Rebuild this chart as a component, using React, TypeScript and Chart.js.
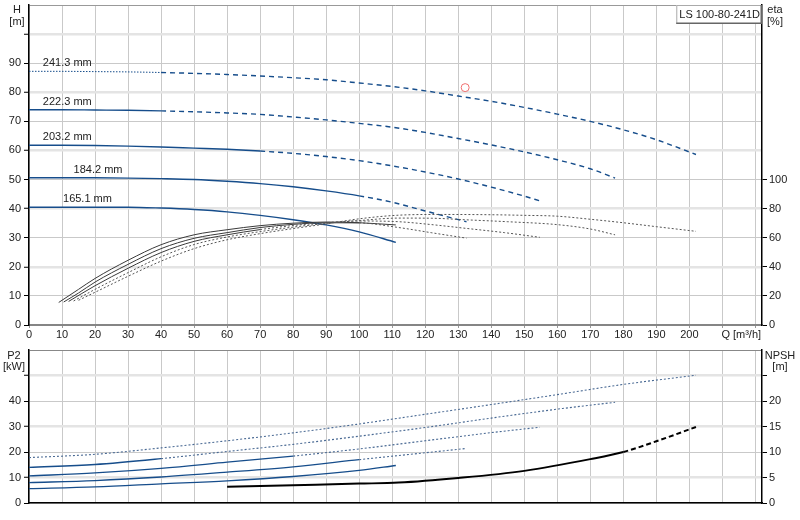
import { useEffect, useRef } from "react";
import { Chart, registerables } from "chart.js";

Chart.register(...registerables);

const FONT_FAMILY = "'Liberation Sans', Arial, sans-serif";
Chart.defaults.font.family = FONT_FAMILY;
Chart.defaults.font.size = 11;
Chart.defaults.color = "#222";

// ---------- data ----------
const modelName = "LS 100-80-241D";
const diameterLabels = ["241.3 mm", "222.3 mm", "203.2 mm", "184.2 mm", "165.1 mm"];
const labelQ = [4.2, 4.2, 4.2, 13.5, 10.3];

const qTicks = [0, 10, 20, 30, 40, 50, 60, 70, 80, 90, 100, 110, 120, 130, 140, 150, 160, 170, 180, 190, 200, 210, 220];
const hTicks = [0, 10, 20, 30, 40, 50, 60, 70, 80, 90, 100, 110];
const etaTicks = [0, 20, 40, 60, 80, 100];
const p2Ticks = [0, 10, 20, 30, 40, 50, 60];
const npshTicks = [0, 5, 10, 15, 20, 25];

// head curves H [m]
const headQ241 = [0, 10, 20, 30, 40, 50, 60, 70, 80, 90, 100, 110, 120, 130, 140, 150, 160, 170, 180, 190, 202];
const head241 = [87.2, 87.2, 87.1, 87.0, 86.8, 86.5, 86.1, 85.6, 85.0, 84.3, 83.2, 82.0, 80.5, 78.7, 76.9, 74.8, 72.5, 70.0, 67.1, 63.7, 58.6];
const headQ222 = [0, 10, 20, 30, 40, 50, 60, 70, 80, 90, 100, 110, 120, 130, 140, 150, 160, 170, 177.5];
const head222 = [74.0, 74.0, 73.9, 73.8, 73.6, 73.3, 72.9, 72.4, 71.5, 70.5, 69.3, 68.0, 66.2, 64.1, 61.9, 59.5, 56.8, 53.7, 50.5];
const headQ203 = [0, 10, 20, 30, 40, 50, 60, 70, 80, 90, 100, 110, 120, 130, 140, 150, 154.7];
const head203 = [61.8, 61.8, 61.7, 61.5, 61.2, 60.8, 60.4, 59.8, 59.0, 57.9, 56.5, 54.7, 52.6, 50.2, 47.4, 44.3, 42.7];
const headQ184 = [0, 10, 20, 30, 40, 50, 60, 70, 80, 90, 100, 110, 120, 132.5];
const head184 = [50.6, 50.6, 50.6, 50.5, 50.3, 50.0, 49.4, 48.6, 47.5, 46.1, 44.4, 42.2, 39.2, 35.5];
const headQ165 = [0, 10, 20, 30, 40, 50, 60, 70, 80, 90, 100, 111.1];
const head165 = [40.5, 40.5, 40.5, 40.5, 40.2, 39.7, 38.9, 37.7, 36.2, 34.4, 32.0, 28.4];

// efficiency curves eta [%]
const etaQ241 = [15, 20, 30, 40, 50, 60, 70, 80, 90, 100, 112, 125, 140, 150, 160, 170, 180, 190, 202];
const eta241 = [17, 22.5, 33.5, 43.9, 52.5, 58.6, 62.8, 66.3, 69.5, 73.0, 75.5, 76.0, 75.8, 75.4, 74.8, 72.7, 70.3, 67.6, 64.4];
const etaQ222 = [13.5, 20, 30, 40, 50, 60, 70, 80, 90, 100, 112, 122, 132.5, 145, 160, 170, 177.5];
const eta222 = [16.5, 24.5, 36, 46.9, 55.3, 60.5, 64.2, 67.3, 69.8, 71.8, 73.5, 73.4, 72.3, 71.0, 69.0, 66.0, 62.0];
const etaQ203 = [12, 20, 30, 40, 50, 60, 70, 80, 90, 100, 112, 122, 132.5, 144, 154.7];
const eta203 = [16.2, 27, 39, 49.8, 57.5, 62.0, 65.6, 68.4, 70.4, 71.5, 71.0, 69.0, 66.4, 63.5, 60.3];
const etaQ184 = [10.5, 15, 20, 30, 40, 50, 60, 70, 80, 90, 100, 112, 122, 132.5];
const eta184 = [15.8, 22, 29.5, 41.7, 52.5, 59.6, 63.5, 67.0, 69.2, 70.3, 70.2, 67.0, 63.4, 59.7];
const etaQ165 = [9, 15, 20, 30, 40, 50, 60, 70, 80, 90, 100, 111.1];
const eta165 = [15.5, 24.5, 32, 44.5, 55.2, 62.0, 65.5, 68.3, 70.0, 70.8, 70.3, 68.8];

// shaft power P2 [kW]
const p2Q241 = [0, 20, 40, 60, 80, 100, 120, 140, 160, 180, 202];
const p2_241 = [17.8, 19.1, 21.6, 24.4, 27.5, 31.0, 34.8, 38.6, 42.5, 46.5, 50.1];
const p2Q222 = [0, 20, 40, 60, 80, 100, 120, 140, 160, 177.5];
const p2_222 = [14.0, 15.1, 17.4, 20.2, 23.0, 26.2, 29.6, 33.3, 36.8, 39.5];
const p2Q203 = [0, 20, 40, 60, 80, 100, 120, 140, 154.7];
const p2_203 = [10.6, 11.8, 13.6, 16.0, 18.4, 21.2, 24.4, 27.6, 29.7];
const p2Q184 = [0, 20, 40, 60, 80, 100, 120, 132.5];
const p2_184 = [8.0, 8.8, 10.2, 12.1, 14.2, 17.0, 19.7, 21.4];
const p2Q165 = [0, 20, 40, 60, 80, 100, 111.1];
const p2_165 = [5.6, 6.3, 7.5, 8.7, 10.4, 12.8, 14.7];

// NPSH [m]
const npshQ = [60, 80, 100, 112, 130, 150, 170, 180, 190, 202];
const npsh = [3.2, 3.5, 3.8, 4.0, 4.9, 6.3, 8.6, 10.0, 12.1, 14.9];

// duty point
const dutyQ = [132.1];
const dutyH = [81.6];

// where each curve stops being drawn solid (index follows diameterLabels)
const headDottedUntil = [40, 0, 0, 0, 0];
const headSolidUntil = [0, 40, 70, 100, 999];
const p2SolidUntil = [0, 40, 70, 100, 999];
const etaSolidUntil = [0, 0, 70, 100, 999];
const npshSolidUntil = 180;

const curves = [
  { headQ: headQ241, head: head241, etaQ: etaQ241, eta: eta241, p2Q: p2Q241, p2: p2_241 },
  { headQ: headQ222, head: head222, etaQ: etaQ222, eta: eta222, p2Q: p2Q222, p2: p2_222 },
  { headQ: headQ203, head: head203, etaQ: etaQ203, eta: eta203, p2Q: p2Q203, p2: p2_203 },
  { headQ: headQ184, head: head184, etaQ: etaQ184, eta: eta184, p2Q: p2Q184, p2: p2_184 },
  { headQ: headQ165, head: head165, etaQ: etaQ165, eta: eta165, p2Q: p2Q165, p2: p2_165 },
];

// ---------- styling helpers ----------
const BLUE = "#164d8b";
const FONT = `11px ${FONT_FAMILY}`;
const GRID = "#c9c9c9";
const GRID_LIGHT = "#e4e4e4";

const xy = (qs: number[], vs: number[]) => qs.map((q, i) => ({ x: q, y: vs[i] }));
const setTicks = (values: number[]) => (s: any) => {
  s.ticks = values.map((v) => ({ value: v }));
};
const fixWidth = (w: number) => (s: any) => {
  s.width = w;
  s.paddingTop = 0;
  s.paddingBottom = 0;
};
const fixHeight = (h: number) => (s: any) => {
  s.height = h;
  s.paddingLeft = 0;
  s.paddingRight = 0;
};

const qAxis = (showLabels: boolean, height: number, borderColor: string, borderWidth: number) => ({
  type: "linear" as const,
  min: 0,
  max: 222,
  afterBuildTicks: setTicks(qTicks),
  afterFit: fixHeight(height),
  ticks: {
    display: showLabels,
    autoSkip: false,
    maxRotation: 0,
    padding: 0,
    callback: (v: any) => (v >= 210 ? "" : String(v)),
  },
  grid: { color: GRID, lineWidth: 1, drawTicks: showLabels, tickLength: 3, tickColor: "#999" },
  border: { color: borderColor, width: borderWidth },
});

function topOverlay(chart: any) {
  const { ctx, chartArea: a, scales } = chart;
  ctx.save();
  ctx.font = FONT;
  ctx.fillStyle = "#222";
  ctx.textBaseline = "middle";
  ctx.textAlign = "center";
  ctx.fillText("H", a.left - 12, a.top + 5);
  ctx.fillText("[m]", a.left - 12, a.top + 17);
  ctx.fillText("eta", a.right + 13, a.top + 5);
  ctx.fillText("[%]", a.right + 13, a.top + 17);
  ctx.textAlign = "left";
  ctx.fillText("Q [m³/h]", scales.x.getPixelForValue(210) - 1, a.bottom + 10);
  curves.forEach((c, i) => {
    ctx.fillText(diameterLabels[i], scales.x.getPixelForValue(labelQ[i]), scales.y.getPixelForValue(c.head[0]) - 8);
  });
  // model name box
  const w = ctx.measureText(modelName).width + 5;
  const bh = 19;
  const bx = a.right - w;
  const by = a.top;
  ctx.fillStyle = "#fff";
  ctx.fillRect(bx, by, w, bh);
  ctx.strokeStyle = "#aaa";
  ctx.lineWidth = 1;
  ctx.strokeRect(bx + 0.5, by + 0.5, w - 1, bh - 1);
  ctx.strokeStyle = "#666";
  ctx.lineWidth = 1.5;
  ctx.beginPath();
  ctx.moveTo(bx, by + bh - 0.75);
  ctx.lineTo(bx + w - 0.75, by + bh - 0.75);
  ctx.lineTo(bx + w - 0.75, by);
  ctx.stroke();
  ctx.fillStyle = "#222";
  ctx.fillText(modelName, bx + 3, by + 10);
  ctx.restore();
}

function bottomOverlay(chart: any) {
  const { ctx, chartArea: a } = chart;
  ctx.save();
  ctx.font = FONT;
  ctx.fillStyle = "#222";
  ctx.textBaseline = "middle";
  ctx.textAlign = "center";
  ctx.fillText("P2", a.left - 15, a.top + 6);
  ctx.fillText("[kW]", a.left - 15, a.top + 17);
  ctx.fillText("NPSH", a.right + 18, a.top + 6);
  ctx.fillText("[m]", a.right + 18, a.top + 17);
  ctx.restore();
}

function topConfig(): any {
  const headSets = curves.map((c, i) => ({
    data: xy(c.headQ, c.head),
    yAxisID: "y",
    borderColor: BLUE,
    borderWidth: 1.4,
    pointRadius: 0,
    cubicInterpolationMode: "monotone",
    segment: {
      borderDash: (ctx: any) => {
        const q = ctx.p0.parsed.x;
        if (q < headDottedUntil[i]) return [1.5, 1.5];
        return q < headSolidUntil[i] ? [] : [5, 4];
      },
      borderWidth: (ctx: any) => (ctx.p0.parsed.x < headDottedUntil[i] ? 1 : 1.4),
    },
  }));
  const etaSets = curves.map((c, i) => ({
    data: xy(c.etaQ, c.eta),
    yAxisID: "y1",
    borderColor: "#3a3a3a",
    borderWidth: 1,
    pointRadius: 0,
    cubicInterpolationMode: "monotone",
    segment: {
      borderDash: (ctx: any) => (ctx.p0.parsed.x < etaSolidUntil[i] ? [] : [2, 2]),
      borderColor: (ctx: any) => (ctx.p0.parsed.x < etaSolidUntil[i] ? "#3a3a3a" : "#555"),
    },
  }));
  const duty = {
    data: xy(dutyQ, dutyH),
    yAxisID: "y",
    showLine: false,
    pointRadius: 4,
    pointStyle: "circle",
    pointBorderColor: "#f07070",
    pointBackgroundColor: "rgba(0,0,0,0)",
    pointBorderWidth: 1,
  };
  return {
    type: "line",
    data: { datasets: [...etaSets, ...headSets, duty] },
    options: {
      responsive: false,
      animation: false,
      layout: { padding: 0 },
      plugins: { legend: { display: false }, tooltip: { enabled: false } },
      scales: {
        x: qAxis(true, 20, "#858585", 2),
        y: {
          type: "linear",
          position: "left",
          min: 0,
          max: 110,
          afterBuildTicks: setTicks(hTicks),
          afterFit: fixWidth(29),
          ticks: { autoSkip: false, padding: 3, callback: (v: any) => (v <= 90 ? String(v) : "") },
          grid: {
            color: (c: any) => (c.tick.value === 110 ? "#999" : c.tick.value % 20 === 0 ? GRID_LIGHT : GRID),
            lineWidth: (c: any) => (c.tick.value % 20 === 0 && c.tick.value !== 0 ? 2.5 : 1),
            tickLength: 5,
            tickWidth: 1,
            tickColor: (c: any) => (c.tick.value === 110 ? "rgba(0,0,0,0)" : "#000"),
          },
          border: { color: "#000", width: 1.5 },
        },
        y1: {
          type: "linear",
          position: "right",
          min: 0,
          max: 220,
          afterBuildTicks: setTicks(etaTicks),
          afterFit: fixWidth(38),
          ticks: { autoSkip: false, padding: 2 },
          grid: { drawOnChartArea: false, tickLength: 5, tickColor: "#000" },
          border: { color: "#000", width: 1.5 },
        },
      },
    },
    plugins: [{ id: "topOverlay", afterDraw: topOverlay }],
  };
}

function bottomConfig(): any {
  const p2Sets = curves.map((c, i) => ({
    data: xy(c.p2Q, c.p2),
    yAxisID: "y",
    borderColor: BLUE,
    borderWidth: 1.3,
    pointRadius: 0,
    cubicInterpolationMode: "monotone",
    segment: {
      borderDash: (ctx: any) => (ctx.p0.parsed.x < p2SolidUntil[i] ? [] : [2, 2]),
      borderColor: (ctx: any) => (ctx.p0.parsed.x < p2SolidUntil[i] ? BLUE : "#4a6a94"),
      borderWidth: (ctx: any) => (ctx.p0.parsed.x < p2SolidUntil[i] ? 1.3 : 1.1),
    },
  }));
  const npshSet = {
    data: xy(npshQ, npsh),
    yAxisID: "y1",
    borderColor: "#000",
    borderWidth: 2,
    pointRadius: 0,
    cubicInterpolationMode: "monotone",
    segment: {
      borderDash: (ctx: any) => (ctx.p0.parsed.x < npshSolidUntil ? [] : [5, 3]),
    },
  };
  return {
    type: "line",
    data: { datasets: [...p2Sets, npshSet] },
    options: {
      responsive: false,
      animation: false,
      layout: { padding: { top: 5 } },
      plugins: { legend: { display: false }, tooltip: { enabled: false } },
      scales: {
        x: qAxis(false, 17, "#000", 1.5),
        y: {
          type: "linear",
          position: "left",
          min: 0,
          max: 60,
          afterBuildTicks: setTicks(p2Ticks),
          afterFit: fixWidth(29),
          ticks: { autoSkip: false, padding: 3, callback: (v: any) => (v <= 40 ? String(v) : "") },
          grid: {
            color: (c: any) => (c.tick.value === 60 ? "#888" : c.tick.value % 20 === 10 ? GRID_LIGHT : GRID),
            lineWidth: (c: any) => (c.tick.value % 20 === 10 ? 2.5 : 1),
            tickLength: 5,
            tickWidth: 1,
            tickColor: (c: any) => (c.tick.value === 60 ? "rgba(0,0,0,0)" : "#000"),
          },
          border: { color: "#000", width: 1.5 },
        },
        y1: {
          type: "linear",
          position: "right",
          min: 0,
          max: 30,
          afterBuildTicks: setTicks(npshTicks),
          afterFit: fixWidth(38),
          ticks: { autoSkip: false, padding: 2, callback: (v: any) => (v <= 20 ? String(v) : "") },
          grid: { drawOnChartArea: false, tickLength: 5, tickColor: "#000" },
          border: { color: "#000", width: 1.5 },
        },
      },
    },
    plugins: [{ id: "bottomOverlay", afterDraw: bottomOverlay }],
  };
}

export default function App() {
  const topRef = useRef<HTMLCanvasElement>(null);
  const bottomRef = useRef<HTMLCanvasElement>(null);

  useEffect(() => {
    if (!topRef.current || !bottomRef.current) return;
    const top = new Chart(topRef.current, topConfig());
    const bottom = new Chart(bottomRef.current, bottomConfig());
    return () => {
      top.destroy();
      bottom.destroy();
    };
  }, []);

  return (
    <div style={{ position: "absolute", left: 0, top: 0, width: 800, height: 520, background: "#fff", overflow: "hidden" }}>
      <canvas ref={topRef} width={800} height={345} style={{ position: "absolute", left: 0, top: 0 }} />
      <canvas ref={bottomRef} width={800} height={175} style={{ position: "absolute", left: 0, top: 345 }} />
    </div>
  );
}
